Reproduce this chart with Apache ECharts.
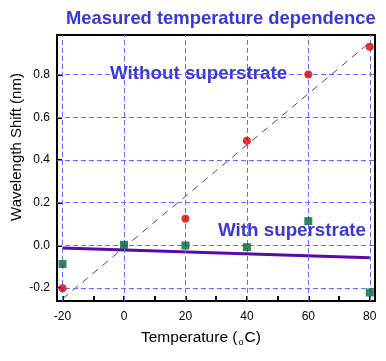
<!DOCTYPE html>
<html><head><meta charset="utf-8">
<script src="https://cdn.jsdelivr.net/npm/echarts@6/dist/echarts.min.js"></script>
<style>html,body{margin:0;padding:0;background:#fff}#c{width:386px;height:361px}</style>
</head><body><div id="c"></div>
<script>
const temps = [-20, 0, 20, 40, 60, 80];
const withoutTemps = [-20, 20, 40, 60, 80];
const withoutShift = [-0.20, 0.125, 0.49, 0.80, 0.93];
const withShift = [-0.087, 0.003, 0.0, -0.008, 0.114, -0.22];
const withoutFitX = [-20, 80];
const withoutFitY = [-0.25, 0.95];
const withFitX = [-20, 80];
const withFitY = [-0.012, -0.057];
const xTicks = [-20, 0, 20, 40, 60, 80];
const xMinorTicks = [-10, 10, 30, 50, 70];
const yTicks = [-0.2, 0.0, 0.2, 0.4, 0.6, 0.8];

const chart = echarts.init(document.getElementById('c'));
const font = 'Liberation Sans, Arial, sans-serif';
const gridLineStyle = {color: '#6b6bff', width: 1, type: [5, 3]};
const yMin = -0.26, yMax = 0.985;
chart.setOption({
  animation: false,
  title: {text: 'Measured temperature dependence', left: 61, top: 5,
    textStyle: {fontFamily: font, fontWeight: 'bold', fontSize: 18.4, color: '#3b37d6'}},
  grid: {left: 57, right: 11, top: 35, bottom: 60, show: true, borderColor: '#000', borderWidth: 2},
  xAxis: {type: 'value', min: -21.8, max: 81.7,
    axisLine: {show: true, onZero: false, lineStyle: {color: '#000', width: 2}},
    axisTick: {show: true, inside: true, length: 5, customValues: xTicks, lineStyle: {color: '#000', width: 2}},
    axisLabel: {customValues: xTicks, margin: 10, fontFamily: font, fontSize: 12, color: '#000',
      formatter: v => String(v)},
    splitLine: {show: false}
  },
  yAxis: {type: 'value', min: yMin, max: yMax,
    axisLine: {show: true, onZero: false, lineStyle: {color: '#000', width: 2}},
    axisTick: {show: true, inside: true, length: 5, customValues: yTicks, lineStyle: {color: '#000', width: 2}},
    axisLabel: {customValues: yTicks, margin: 7, fontFamily: font, fontSize: 12, color: '#000',
      formatter: v => v.toFixed(1)},
    splitLine: {show: false}
  },
  series: [
    {type: 'line', data: [], silent: true,
      markLine: {silent: true, symbol: 'none', label: {show: false},
        lineStyle: gridLineStyle,
        data: xTicks.map(v => ({xAxis: v})).concat(yTicks.map(v => ({yAxis: v})))}},
    {type: 'line', data: [], silent: true,
      markLine: {silent: true, symbol: 'none', label: {show: false}, lineStyle: {color: '#000', width: 2, type: 'solid'},
        data: xMinorTicks.map(v => [{coord: [v, yMin]}, {coord: [v, yMin + 0.023]}])}},
    {type: 'line', data: withoutFitX.map((x, i) => [x, withoutFitY[i]]), symbol: 'none',
      lineStyle: {color: '#3c4684', width: 1, type: [7, 6]}, z: 3},
    {type: 'line', data: withFitX.map((x, i) => [x, withFitY[i]]), symbol: 'none',
      lineStyle: {color: '#5a0aa8', width: 3}, z: 3},
    {type: 'scatter', data: withoutTemps.map((x, i) => [x, withoutShift[i]]), symbol: 'circle', symbolSize: 8,
      itemStyle: {color: '#dd0000'}, z: 5},
    {type: 'scatter', data: temps.map((x, i) => [x, withShift[i]]), symbol: 'rect', symbolSize: 8,
      itemStyle: {color: '#006633'}, z: 5}
  ],
  graphic: [
    {type: 'text', left: 110, top: 64, style: {text: 'Without superstrate', font: 'bold 18.8px ' + font, fill: '#3b37d6'}},
    {type: 'text', left: 218, top: 221, style: {text: 'With superstrate', font: 'bold 18.8px ' + font, fill: '#3b37d6'}},
    {type: 'text', x: 17, y: 147, rotation: Math.PI / 2,
      style: {text: 'Wavelength Shift (nm)', font: '15px ' + font, fill: '#000', align: 'center', verticalAlign: 'middle'}},
    {type: 'text', x: 141, y: 338,
      style: {text: 'Temperature ({d|o}C)', font: '15.5px ' + font, fill: '#000', align: 'left', verticalAlign: 'middle',
        rich: {d: {fontSize: 9, fontFamily: font, padding: [9, 1, 0, 1]}}}}
  ]
});
</script></body></html>
